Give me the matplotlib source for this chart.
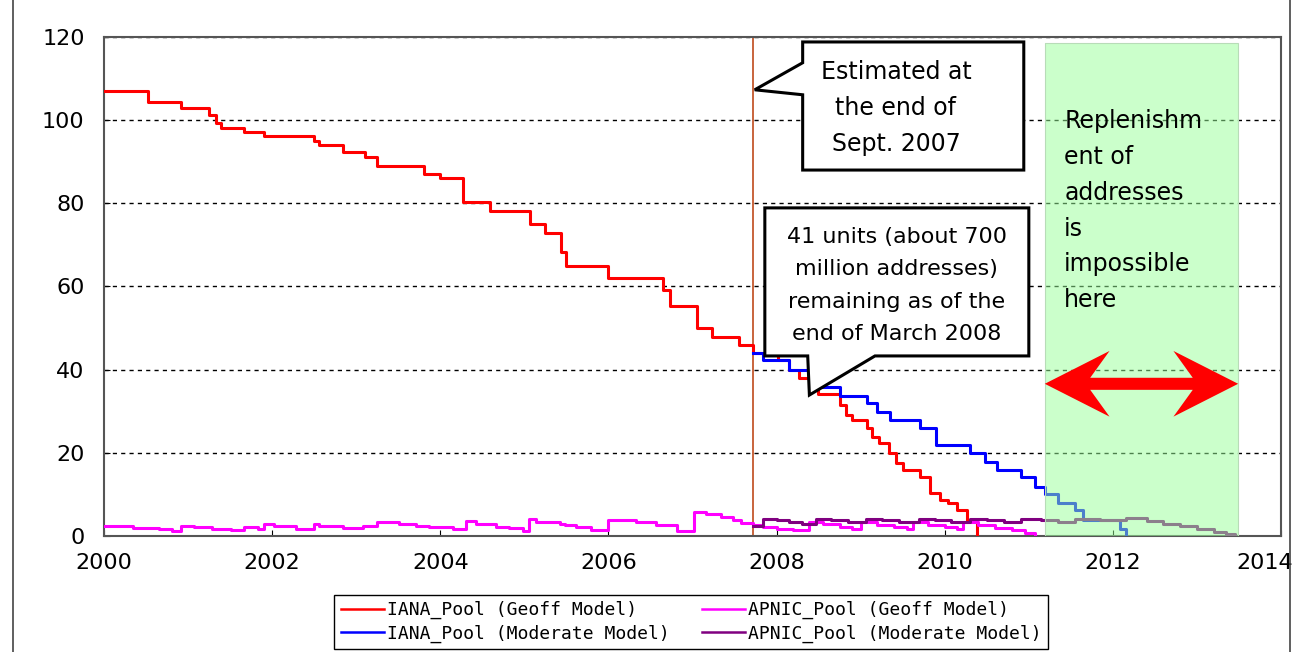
import numpy as np
import matplotlib
matplotlib.use("Agg")
import matplotlib.pyplot as plt
import matplotlib.transforms as mtransforms
from matplotlib.patches import Polygon, Rectangle
from matplotlib.lines import Line2D

# IANA pool, Geoff model (units of /8)
iana_geoff_t = [2000.0, 2000.52, 2000.92, 2001.25, 2001.33, 2001.39, 2001.67, 2001.90,
                2002.50, 2002.56, 2002.84, 2003.10, 2003.25, 2003.81, 2004.00, 2004.27,
                2004.59, 2005.07, 2005.25, 2005.44, 2005.49, 2006.00, 2006.65, 2006.73,
                2007.05, 2007.23, 2007.55, 2007.72, 2008.02, 2008.15, 2008.27, 2008.39,
                2008.49, 2008.75, 2008.83, 2008.90, 2009.07, 2009.14, 2009.22, 2009.34,
                2009.42, 2009.50, 2009.70, 2009.82, 2009.94, 2010.04, 2010.14, 2010.26,
                2010.38]
iana_geoff_v = [107.0, 104.3, 103.0, 101.2, 99.2, 98.0, 97.2, 96.2,
                95.0, 94.1, 92.3, 91.1, 88.9, 87.1, 86.1, 80.2,
                78.2, 75.0, 72.9, 68.2, 65.0, 62.0, 59.2, 55.2,
                49.9, 47.8, 45.9, 43.9, 42.3, 40.0, 37.9, 35.5,
                34.2, 31.5, 29.1, 27.9, 25.9, 23.9, 22.3, 19.9,
                17.5, 15.9, 14.3, 10.3, 8.7, 7.9, 6.3, 3.8,
                0.0]

# IANA pool, moderate model
iana_mod_t = [2007.72, 2007.84, 2008.15, 2008.45, 2008.75, 2009.07, 2009.19, 2009.35,
              2009.70, 2009.90, 2010.30, 2010.48, 2010.62, 2010.91, 2011.07, 2011.19,
              2011.35, 2011.55, 2011.65, 2012.08, 2012.16]
iana_mod_v = [43.9, 42.3, 39.8, 35.8, 33.7, 31.9, 29.9, 27.9,
              25.9, 21.9, 19.9, 17.9, 15.9, 14.3, 11.9, 10.0,
              7.9, 6.3, 3.8, 1.8, 0.0]

# APNIC pool, Geoff model
apnic_geoff_t = [2000.0, 2000.34, 2000.65, 2000.81, 2000.91, 2001.07, 2001.29, 2001.51,
                 2001.66, 2001.83, 2001.90, 2002.02, 2002.28, 2002.50, 2002.56, 2002.84,
                 2003.08, 2003.25, 2003.51, 2003.71, 2003.87, 2004.15, 2004.31, 2004.43,
                 2004.66, 2004.82, 2004.98, 2005.06, 2005.14, 2005.42, 2005.48, 2005.61,
                 2005.79, 2005.99, 2006.33, 2006.57, 2006.81, 2007.02, 2007.16, 2007.34,
                 2007.48, 2007.58, 2007.72, 2007.84, 2008.00, 2008.20, 2008.39, 2008.55,
                 2008.75, 2008.90, 2009.00, 2009.20, 2009.40, 2009.55, 2009.62, 2009.80,
                 2010.00, 2010.15, 2010.22, 2010.40, 2010.60, 2010.80, 2010.95, 2011.07]
apnic_geoff_v = [2.4, 2.0, 1.7, 1.3, 2.5, 2.2, 1.8, 1.4,
                 2.2, 1.8, 3.0, 2.5, 1.7, 3.0, 2.4, 2.0,
                 2.5, 3.4, 3.0, 2.5, 2.1, 1.7, 3.5, 3.0,
                 2.2, 1.9, 1.3, 4.1, 3.3, 2.9, 2.6, 2.1,
                 1.4, 3.9, 3.4, 2.7, 1.3, 5.8, 5.3, 4.6,
                 3.8, 3.05, 2.6, 2.1, 1.8, 1.5, 3.4, 2.8,
                 2.2, 1.6, 3.3, 2.7, 2.1, 1.6, 3.3, 2.7,
                 2.1, 1.6, 3.3, 2.6, 2.0, 1.4, 0.8, 0.0]

# APNIC pool, moderate model
apnic_mod_t = [2007.72, 2007.84, 2008.00, 2008.15, 2008.30, 2008.47, 2008.65, 2008.85,
               2009.06, 2009.25, 2009.45, 2009.69, 2009.88, 2010.08, 2010.30, 2010.50,
               2010.70, 2010.91, 2011.15, 2011.35, 2011.55, 2011.85, 2012.16, 2012.40,
               2012.60, 2012.80, 2013.00, 2013.20, 2013.35, 2013.45]
apnic_mod_v = [2.4, 4.2, 3.8, 3.4, 3.0, 4.2, 3.8, 3.4,
               4.2, 3.8, 3.4, 4.2, 3.8, 3.4, 4.2, 3.8,
               3.4, 4.2, 3.8, 3.3, 4.1, 3.8, 4.4, 3.7,
               3.0, 2.3, 1.6, 0.9, 0.4, 0.2]

labels = ["IANA_Pool (Geoff Model)", "IANA_Pool (Moderate Model)",
          "APNIC_Pool (Geoff Model)", "APNIC_Pool (Moderate Model)"]
colors = ["#ff0000", "#0000ff", "#ff00ff", "#800080"]

x_ticks = [2000, 2002, 2004, 2006, 2008, 2010, 2012, 2014]
y_ticks = [0, 20, 40, 60, 80, 100, 120]

estimate_date = 2007.72          # end of Sept. 2007
band_start, band_end = 2011.19, 2013.49
band_top = 118.6

# annotation geometry (data coords)
box1 = (2008.31, 2010.94, 88.0, 118.8)
box1_ptr = (106.1, 113.8, 2007.74, 107.3)
box2 = (2007.86, 2011.00, 43.3, 78.9)
box2_ptr = (2008.37, 2009.17, 2008.39, 33.9)
arrow_y = 36.6


def callout_left(box, ptr):
    x0, x1, y0, y1 = box
    ya, yb, tx, ty = ptr
    return [(x0, y1), (x1, y1), (x1, y0), (x0, y0), (x0, ya), (tx, ty), (x0, yb)]


def callout_bottom(box, ptr):
    x0, x1, y0, y1 = box
    xa, xb, tx, ty = ptr
    return [(x0, y1), (x1, y1), (x1, y0), (xb, y0), (tx, ty), (xa, y0), (x0, y0)]


def double_arrow(xa, xb, y, head_len=0.77, head_w=7.9, shaft_w=1.45, notch=0.23):
    return [(xa, y), (xa + head_len, y + head_w), (xa + head_len - notch, y + shaft_w),
            (xb - head_len + notch, y + shaft_w), (xb - head_len, y + head_w), (xb, y),
            (xb - head_len, y - head_w), (xb - head_len + notch, y - shaft_w),
            (xa + head_len - notch, y - shaft_w), (xa + head_len, y - head_w)]


fig = plt.figure(figsize=(12.97, 6.52), dpi=100)
ax = fig.add_axes([0.0802, 0.1779, 0.9075, 0.7654])

series = [(iana_geoff_t, iana_geoff_v), (iana_mod_t, iana_mod_v),
          (apnic_geoff_t, apnic_geoff_v), (apnic_mod_t, apnic_mod_v)]
for (t, v), lab, c in zip(series, labels, colors):
    ax.step(t, v, where="post", color=c, lw=2.2, label=lab, zorder=3)

ax.axvline(estimate_date, color="#c8643c", lw=1.4, zorder=2)

# green zone drawn over the lines so they show through faded
ax.add_patch(Rectangle((band_start, 0), band_end - band_start, band_top,
                       facecolor=(0.6, 1.0, 0.6), alpha=0.5, edgecolor="none", zorder=4))
ax.add_patch(Rectangle((band_start, 0), band_end - band_start, band_top,
                       facecolor="none", edgecolor="#b8dcb8", lw=0.8, zorder=4))

ax.add_patch(Polygon(double_arrow(band_start, band_end, arrow_y),
                     closed=True, facecolor="#ff0000", edgecolor="none", zorder=6))

ax.add_patch(Polygon(callout_left(box1, box1_ptr), closed=True, facecolor="white",
                     edgecolor="black", lw=2.2, joinstyle="miter", zorder=7))
ax.add_patch(Polygon(callout_bottom(box2, box2_ptr), closed=True, facecolor="white",
                     edgecolor="black", lw=2.2, joinstyle="miter", zorder=7))

ax.text(2009.42, 102.9, "Estimated at\nthe end of\nSept. 2007", fontsize=17,
        ha="center", va="center", linespacing=1.62, zorder=8)
ax.text(2009.43, 60.2, "41 units (about 700\nmillion addresses)\nremaining as of the\nend of March 2008",
        fontsize=16, ha="center", va="center", linespacing=1.77, zorder=8)
ax.text(2011.42, 78.2, "Replenishm\nent of\naddresses\nis\nimpossible\nhere", fontsize=17,
        ha="left", va="center", linespacing=1.62, zorder=8)

ax.set_xlim(2000, 2014)
ax.set_ylim(0, 120)
ax.set_xticks(x_ticks)
ax.set_yticks(y_ticks)
ax.tick_params(direction="in", length=4, labelsize=16, pad=14)
ax.tick_params(axis="x", pad=12)
ax.yaxis.grid(True, color="black", ls=(0, (3, 3)), lw=1.0)
ax.set_axisbelow(True)
for s in ax.spines.values():
    s.set_color("#555555")
    s.set_linewidth(1.5)

# last x label sits a little to the left, as in the original
last = ax.get_xticklabels()[-1]
last.set_transform(last.get_transform() +
                   mtransforms.ScaledTranslation(-0.16, 0, fig.dpi_scale_trans))

leg = fig.legend(loc="center", bbox_to_anchor=(691 / 1297, 1 - 622 / 652), ncol=2,
                 prop={"family": "DejaVu Sans Mono", "size": 13},
                 handlelength=2.4, handletextpad=0.15, columnspacing=1.8,
                 labelspacing=0.3, fancybox=False, edgecolor="black", framealpha=1,
                 borderpad=0.35, borderaxespad=0)
leg.get_frame().set_linewidth(1.0)
for h in leg.legend_handles:
    h.set_linewidth(1.8)

# frame lines at the sides of the picture
fig.add_artist(Line2D([13 / 1297, 13 / 1297], [0, 1], color="#444444", lw=1.2))
fig.add_artist(Line2D([1290 / 1297, 1290 / 1297], [0, 1], color="#444444", lw=1.2))

fig.savefig("out.png", dpi=100)
